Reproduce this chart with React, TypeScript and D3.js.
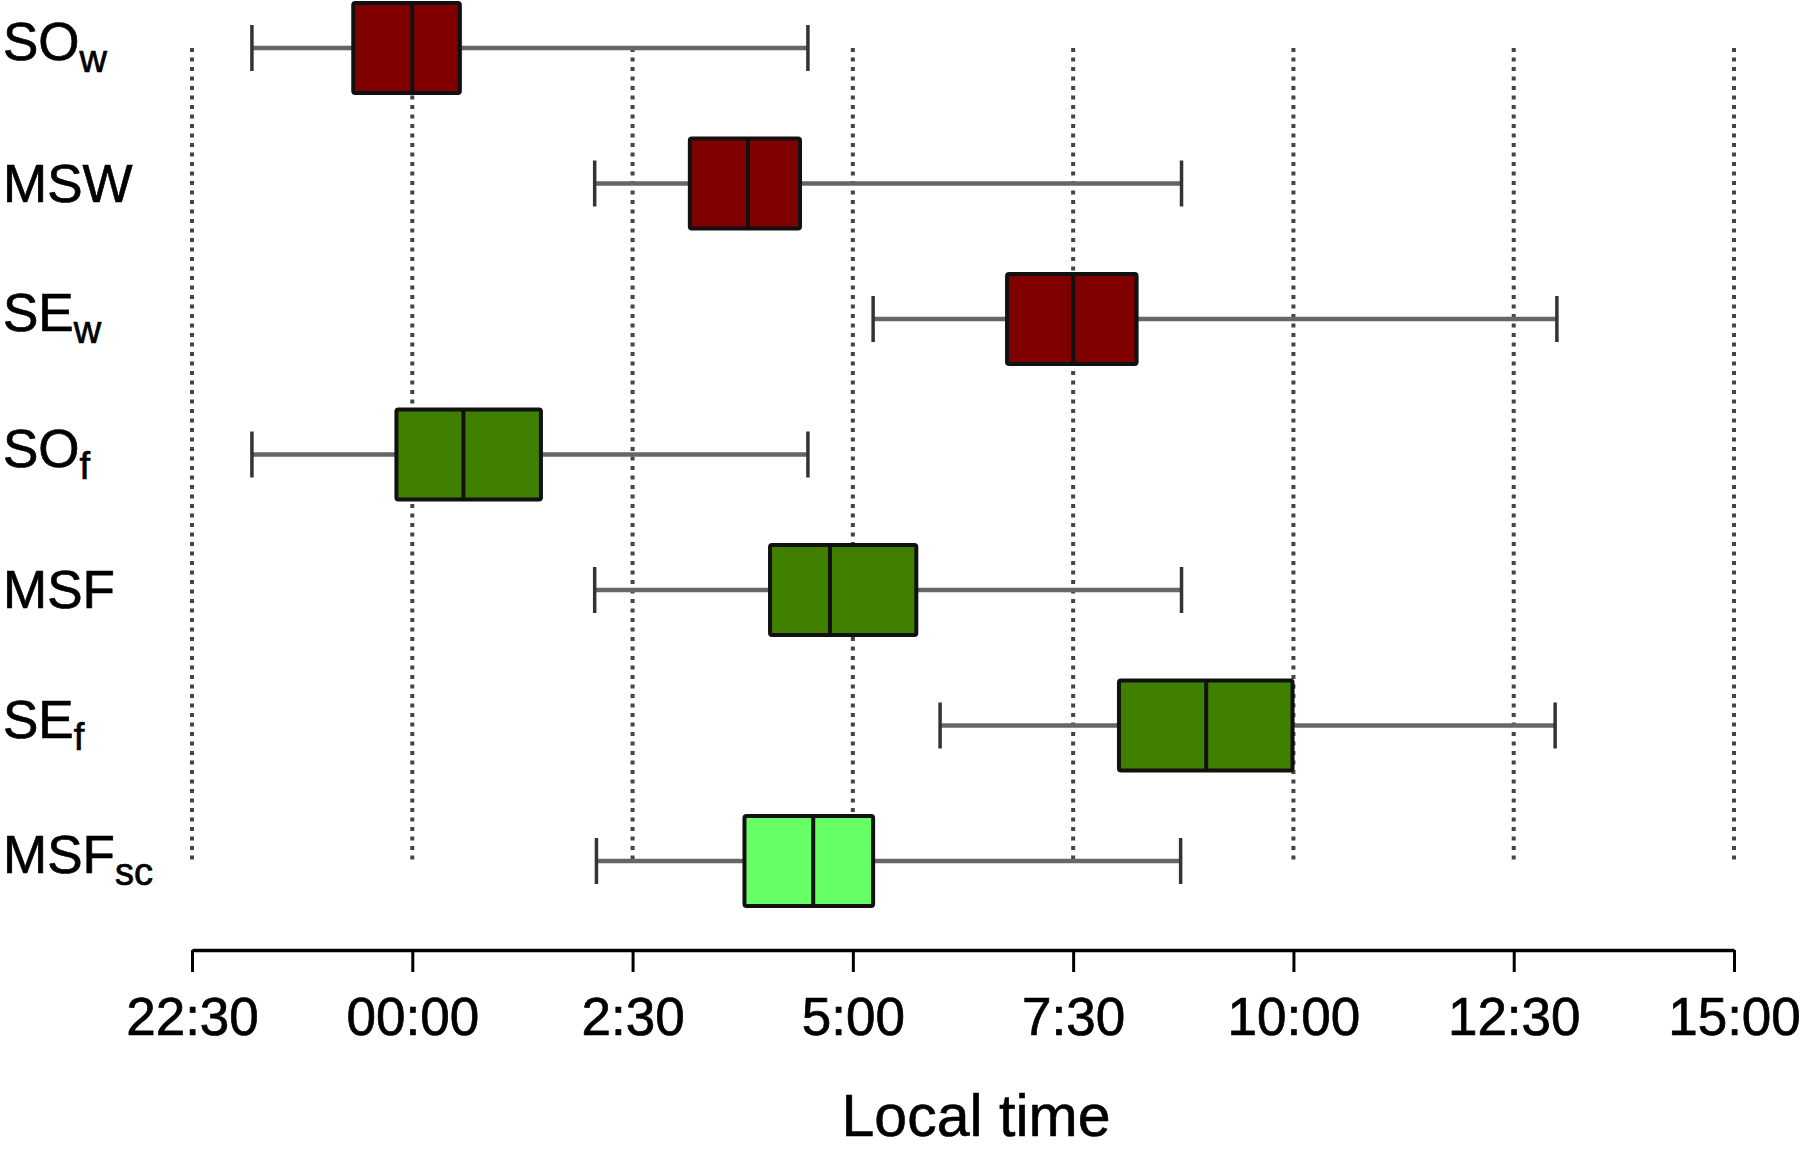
import { useEffect, useRef } from 'react';
import * as d3 from 'd3';

// hours relative to midnight (negative = evening before)
const categories = ['SOw', 'MSW', 'SEw', 'SOf', 'MSF', 'SEf', 'MSFsc'];
const labelMain = ['SO', 'MSW', 'SE', 'SO', 'MSF', 'SE', 'MSF'];
const labelSub = ['w', '', 'w', 'f', '', 'f', 'sc'];
const lowWhisker = [-1.82, 2.07, 5.23, -1.82, 2.07, 5.99, 2.09];
const q1 = [-0.67, 3.15, 6.75, -0.18, 4.06, 8.02, 3.77];
const median = [0, 3.81, 7.5, 0.58, 4.74, 9.01, 4.55];
const q3 = [0.54, 4.4, 8.22, 1.46, 5.72, 9.99, 5.23];
const highWhisker = [4.49, 8.73, 12.99, 4.49, 8.73, 12.97, 8.72];
const group = ['wake', 'wake', 'wake', 'free', 'free', 'free', 'corrected'];

const tickValues = [-2.5, 0, 2.5, 5, 7.5, 10, 12.5, 15];
const tickLabels = ['22:30', '00:00', '2:30', '5:00', '7:30', '10:00', '12:30', '15:00'];

const W = 1800;
const H = 1151;
const FONT = 'Liberation Sans, Arial, Helvetica, sans-serif';

export default function App() {
  const svgRef = useRef<SVGSVGElement>(null);

  useEffect(() => {
    document.body.style.margin = '0';
    if (!svgRef.current) return;
    const svg = d3.select(svgRef.current);
    svg.selectAll('*').remove();

    const x = d3.scaleLinear().domain([-2.5, 15]).range([192, 1734]);
    const y = d3.scalePoint<string>().domain(categories).range([48, 861]);
    const color = d3.scaleOrdinal<string>()
      .domain(['wake', 'free', 'corrected'])
      .range(['#800000', '#3f8000', '#66ff66']);

    const boxH = 90;
    const capH = 46;
    const rows = categories.map((c, i) => ({ c, i }));

    // dotted reference lines
    svg.append('g')
      .selectAll('line')
      .data(tickValues)
      .join('line')
      .attr('x1', (d) => x(d))
      .attr('x2', (d) => x(d))
      .attr('y1', y(categories[0])!)
      .attr('y2', y(categories[categories.length - 1])!)
      .attr('stroke', '#444')
      .attr('stroke-width', 4)
      .attr('stroke-dasharray', '4 5.5');

    const g = svg.append('g');

    // whiskers
    g.selectAll('line.whisker')
      .data(rows)
      .join('line')
      .attr('class', 'whisker')
      .attr('x1', (d) => x(lowWhisker[d.i]))
      .attr('x2', (d) => x(highWhisker[d.i]))
      .attr('y1', (d) => y(d.c)!)
      .attr('y2', (d) => y(d.c)!)
      .attr('stroke', '#666')
      .attr('stroke-width', 4.5);

    // caps
    [lowWhisker, highWhisker].forEach((arr) => {
      g.selectAll(null)
        .data(rows)
        .join('line')
        .attr('x1', (d) => x(arr[d.i]))
        .attr('x2', (d) => x(arr[d.i]))
        .attr('y1', (d) => y(d.c)! - capH / 2)
        .attr('y2', (d) => y(d.c)! + capH / 2)
        .attr('stroke', '#333')
        .attr('stroke-width', 3.5);
    });

    // boxes
    g.selectAll('rect')
      .data(rows)
      .join('rect')
      .attr('x', (d) => x(q1[d.i]))
      .attr('width', (d) => x(q3[d.i]) - x(q1[d.i]))
      .attr('y', (d) => y(d.c)! - boxH / 2)
      .attr('height', boxH)
      .attr('rx', 2)
      .attr('fill', (d) => color(group[d.i]))
      .attr('stroke', '#111')
      .attr('stroke-width', 4);

    // medians
    g.selectAll('line.median')
      .data(rows)
      .join('line')
      .attr('class', 'median')
      .attr('x1', (d) => x(median[d.i]))
      .attr('x2', (d) => x(median[d.i]))
      .attr('y1', (d) => y(d.c)! - boxH / 2)
      .attr('y2', (d) => y(d.c)! + boxH / 2)
      .attr('stroke', '#111')
      .attr('stroke-width', 4);

    // row labels with subscripts
    const labels = svg.append('g')
      .selectAll('text')
      .data(rows)
      .join('text')
      .attr('x', 3)
      .attr('y', (d) => y(d.c)! + (labelSub[d.i] ? 12 : 18))
      .style('font-family', FONT)
      .style('font-size', '53px')
      .style('fill', '#000')
      .style('stroke', '#000')
      .style('stroke-width', '0.7px');
    labels.append('tspan').text((d) => labelMain[d.i]);
    labels.append('tspan')
      .attr('dy', 12)
      .style('font-size', '38px')
      .text((d) => labelSub[d.i]);

    // x axis
    const axis = d3.axisBottom(x)
      .tickValues(tickValues)
      .tickFormat((_, i) => tickLabels[i])
      .tickSize(22)
      .tickSizeOuter(0)
      .tickPadding(25);

    const ax = svg.append('g')
      .attr('transform', 'translate(0, 950)')
      .call(axis);
    ax.select('.domain').attr('stroke', '#000').attr('stroke-width', 3.5);
    ax.selectAll('.tick line').attr('stroke', '#000').attr('stroke-width', 3);
    ax.selectAll('.tick text')
      .style('font-family', FONT)
      .style('font-size', '53px')
      .style('fill', '#000')
      .style('stroke', '#000')
      .style('stroke-width', '0.7px');

    svg.append('text')
      .attr('x', 976)
      .attr('y', 1136)
      .attr('text-anchor', 'middle')
      .style('font-family', FONT)
      .style('font-size', '59px')
      .style('fill', '#000')
      .style('stroke', '#000')
      .style('stroke-width', '0.6px')
      .text('Local time');
  }, []);

  return <svg ref={svgRef} width={W} height={H} style={{ display: 'block', background: '#fff' }} />;
}
